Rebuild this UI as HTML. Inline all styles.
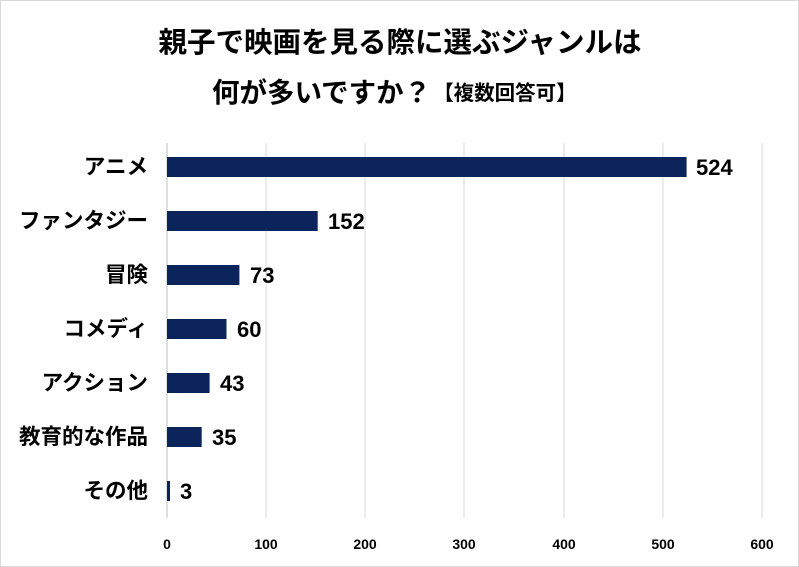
<!DOCTYPE html>
<html><head><meta charset="utf-8"><style>
body{margin:0;background:#fff;}
svg{display:block;font-family:"Liberation Sans","Noto Sans CJK JP",sans-serif;}
</style></head><body>
<svg width="799" height="567" viewBox="0 0 799 567" xmlns="http://www.w3.org/2000/svg">
<rect x="0.5" y="0.5" width="798" height="566" fill="#fff" stroke="#d9d9d9"/>
<text x="400" y="52" text-anchor="middle" font-size="28.5" font-weight="bold" fill="#000">親子で映画を見る際に選ぶジャンルは</text>
<text x="212" y="102" font-size="27.5" font-weight="bold" fill="#000">何が多いですか？<tspan font-size="20.5" dx="2" dy="-2">【複数回答可】</tspan></text>
<g stroke="#d9d9d9" stroke-width="1">
<line x1="266" y1="143" x2="266" y2="518"/>
<line x1="365" y1="143" x2="365" y2="518"/>
<line x1="464" y1="143" x2="464" y2="518"/>
<line x1="564" y1="143" x2="564" y2="518"/>
<line x1="663" y1="143" x2="663" y2="518"/>
<line x1="762" y1="143" x2="762" y2="518"/>
</g>
<line x1="167" y1="143" x2="167" y2="518" stroke="#bfbfbf"/>
<g fill="#0c245c">
<rect x="167" y="157" width="519.6" height="20"/>
<rect x="167" y="211" width="150.7" height="20"/>
<rect x="167" y="265" width="72.4" height="20"/>
<rect x="167" y="319" width="59.5" height="20"/>
<rect x="167" y="373" width="42.6" height="20"/>
<rect x="167" y="427" width="34.7" height="20"/>
<rect x="167" y="481" width="3" height="20"/>
</g>
<g font-size="22" font-weight="bold" fill="#000">
<text x="696" y="175">524</text>
<text x="328" y="229">152</text>
<text x="250" y="283">73</text>
<text x="237" y="337">60</text>
<text x="220" y="391">43</text>
<text x="212" y="445">35</text>
<text x="180" y="499">3</text>
</g>
<g font-size="21.5" font-weight="bold" fill="#000" text-anchor="end">
<text x="148" y="174">アニメ</text>
<text x="148" y="228">ファンタジー</text>
<text x="148" y="282">冒険</text>
<text x="148" y="336">コメディ</text>
<text x="148" y="390">アクション</text>
<text x="148" y="444">教育的な作品</text>
<text x="148" y="498">その他</text>
</g>
<g font-size="14" font-weight="bold" fill="#000" text-anchor="middle">
<text x="167" y="549">0</text>
<text x="266" y="549">100</text>
<text x="365" y="549">200</text>
<text x="464" y="549">300</text>
<text x="564" y="549">400</text>
<text x="663" y="549">500</text>
<text x="762" y="549">600</text>
</g>
</svg>
</body></html>
